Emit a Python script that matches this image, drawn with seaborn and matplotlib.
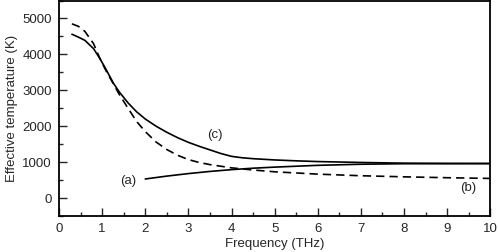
import numpy as np
import pandas as pd
from matplotlib import pyplot as plt
from matplotlib.ticker import MultipleLocator
import seaborn as sns

# curve (a): solid, rising
freq_a = [2.0, 2.5, 3.0, 3.5, 4.0, 4.5, 5.0, 6.0, 7.0, 8.0, 9.0, 10.0]
temp_a = [530, 610, 680, 740, 790, 830, 860, 910, 940, 955, 958, 960]

# curve (b): dashed
freq_b = [0.3, 0.45, 0.6, 0.8, 0.95, 1.1, 1.26, 1.4, 1.6, 1.8, 2.0, 2.25, 2.5, 2.75,
          3.0, 3.25, 3.5, 4.0, 4.5, 5.0, 6.0, 7.0, 8.0, 9.0, 10.0]
temp_b = [4850, 4780, 4640, 4300, 3880, 3520, 3180, 2880, 2500, 2130, 1850, 1560,
          1350, 1190, 1070, 990, 930, 840, 780, 730, 665, 620, 590, 565, 545]

# curve (c): solid, falling
freq_c = [0.3, 0.45, 0.6, 0.8, 0.95, 1.1, 1.26, 1.4, 1.6, 1.8, 2.0, 2.25, 2.5, 2.75,
          3.0, 3.25, 3.5, 3.75, 4.0, 4.25, 4.5, 5.0, 5.5, 6.0, 7.0, 8.0, 9.0, 10.0]
temp_c = [4560, 4480, 4390, 4160, 3880, 3560, 3200, 2950, 2650, 2400, 2200, 2000,
          1830, 1680, 1550, 1440, 1340, 1240, 1160, 1120, 1095, 1060, 1035, 1015,
          990, 970, 962, 960]

if __name__ == "__main__":
    sns.set_style("ticks")
    plt.rcParams['font.family'] = ['Liberation Sans', 'DejaVu Sans']
    plt.rcParams['font.size'] = 9.5

    fig = plt.figure(figsize=(4.98, 2.52), dpi=100)
    ax = fig.add_axes([0.1185, 0.143, 0.866, 0.855])

    sns.lineplot(x=freq_a, y=temp_a, ax=ax, color='black', linewidth=1.2, sort=False)
    sns.lineplot(x=freq_b, y=temp_b, ax=ax, color='black', linewidth=1.2, sort=False,
                 linestyle=(0, (5, 3)))
    sns.lineplot(x=freq_c, y=temp_c, ax=ax, color='black', linewidth=1.2, sort=False)

    ax.text(1.6, 470, '(a)', ha='center', va='center', fontsize=9.5)
    ax.text(3.62, 1760, '(c)', ha='center', va='center', fontsize=9.5)
    ax.text(9.48, 280, '(b)', ha='center', va='center', fontsize=9.5)

    ax.set_xlim(0, 10)
    ax.set_ylim(-500, 5500)
    ax.xaxis.set_major_locator(MultipleLocator(1))
    ax.xaxis.set_minor_locator(MultipleLocator(0.5))
    ax.yaxis.set_minor_locator(MultipleLocator(500))
    ax.set_yticks(range(0, 6000, 1000))
    ax.tick_params(which='major', direction='in', length=6, width=1, pad=5, labelsize=9.5)
    ax.tick_params(which='minor', direction='in', length=3, width=1)
    ax.tick_params(which='both', top=False, right=False)

    for s in ax.spines.values():
        s.set_linewidth(1.3)
        s.set_color('black')

    ax.set_xlabel('Frequency (THz)', fontsize=9.5, labelpad=2.5)
    ax.set_ylabel('Effective temperature (K)', fontsize=9.5, labelpad=3)

    fig.savefig('out.png', dpi=100)
